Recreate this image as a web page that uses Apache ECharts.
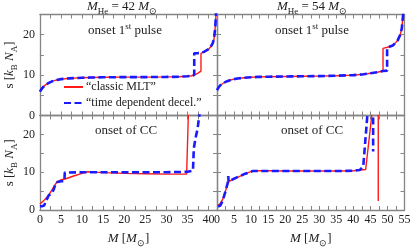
<!DOCTYPE html>
<html><head><meta charset="utf-8">
<script src="https://cdn.jsdelivr.net/npm/echarts@6/dist/echarts.min.js"></script>
<style>html,body{margin:0;padding:0;background:#fff}#c{width:415px;height:249px}</style>
</head><body><div id="c"></div>
<script>
// ---- data ----
// Upper-left: M_He = 42, onset 1st pulse
const M_UL_red  = [0,0.5,1,1.5,2,3,4,5,6,7,8,10,12,15,20,25,30,33,35,36,36.8,37.5,38.2,38.2,39,40,40.5,41,41.3,41.6,41.8];
const S_UL_red  = [5.9,6.7,7.3,7.7,8.0,8.5,8.8,9.0,9.1,9.2,9.25,9.35,9.4,9.45,9.5,9.5,9.55,9.6,9.7,9.85,10.1,10.5,11.0,15.4,15.8,16.4,17.0,17.9,19,22,26];
const M_UL_blue = [0,0.5,1,1.5,2,3,4,5,6,7,8,10,12,15,20,25,30,33,35,36,36.6,36.6,37.5,38.2,39,40,40.5,41,41.3,41.6,41.8];
const S_UL_blue = [5.9,6.7,7.3,7.7,8.0,8.5,8.8,9.0,9.1,9.2,9.25,9.35,9.4,9.45,9.5,9.5,9.55,9.6,9.7,9.85,10.0,15.4,15.45,15.5,15.8,16.4,17.0,17.9,19,22,26];
// Upper-right: M_He = 54, onset 1st pulse
const M_UR_red  = [0,0.5,1,2,3,4,5,6,8,10,12,15,20,25,30,35,40,43,45,47,48.7,48.7,50,51.7,53,53.7,54.2,54.6,54.9];
const S_UR_red  = [6.3,7.0,7.5,8.1,8.5,8.8,9.0,9.15,9.35,9.45,9.55,9.6,9.65,9.7,9.75,9.85,10.0,10.2,10.45,10.7,11.0,16.6,16.9,17.4,18.6,19.9,21.5,25,27];
const M_UR_blue = [0,0.5,1,2,3,4,5,6,8,10,12,15,20,25,30,35,40,43,45,47,48.7,49.9,49.9,50,51.7,53,53.7,54.2,54.6,54.9];
const S_UR_blue = [6.3,7.0,7.5,8.1,8.5,8.8,9.0,9.15,9.35,9.45,9.55,9.6,9.65,9.7,9.75,9.85,10.0,10.2,10.45,10.7,11.0,11.1,16.8,16.9,17.4,18.6,19.9,21.5,25,27];
// Lower-left: M_He = 42, onset of CC
const M_LL_red  = [0,1,2,3,4,4.4,5,6,8,10,11.2,15,20,25,30,34.8,35.2,35.3];
const S_LL_red  = [1.6,2.6,3.8,5.6,7.4,7.8,8.0,8.2,9.0,9.7,10.1,9.9,9.7,9.6,9.5,9.5,25,30];
const M_LL_blue = [0,0.5,1,1.5,2.1,2.8,3.3,3.8,4.2,5.0,5.8,5.9,6.5,10,15,20,25,30,35,36.3,36.5,36.9,37.4,37.8,38];
const S_LL_blue = [1.0,1.0,1.2,2.5,3.9,4.3,5.5,7.3,7.5,7.6,7.6,9.9,9.9,10.0,10.0,10.0,10.0,10.0,10.1,10.4,16.3,19,21.5,25,27];
// Lower-right: M_He = 54, onset of CC
const M_LR_red  = [0.3,1,1.7,2.5,3.2,4,5.1,6.5,8.1,9.5,11,15,20,25,30,35,40,43.6,45.4,45.6,47.3,47.3];
const S_LR_red  = [1.2,1.8,2.9,5.0,7.4,7.8,8.2,8.8,9.5,10.0,10.4,10.4,10.3,10.3,10.3,10.3,10.4,10.7,25,30,30,2.4];
const M_LR_blue = [0.3,1.0,1.7,2.5,3.2,3.3,3.4,5,8,10.5,15,20,25,30,35,40,41.9,42.9,44.1,44.3,45.8,45.8];
const S_LR_blue = [0.9,1.2,2.5,5.0,7.3,9.0,7.6,8.3,9.5,10.3,10.3,10.3,10.3,10.3,10.3,10.4,10.6,11.5,25,30,30,15.5];

const X_MAX = [42, 55, 42, 55];
const Y_MAX = 25;
const titles = ['{i|M}{sub|He} = 42 {i|M}{sub|\u2299}', '{i|M}{sub|He} = 54 {i|M}{sub|\u2299}'];
const panelLabels = ['onset 1{sup|st} pulse', 'onset 1{sup|st} pulse', 'onset of CC', 'onset of CC'];
const legendNames = ['\u201cclassic MLT\u201d', '\u201ctime dependent decel.\u201d'];
const yName = 's [{i|k}{sub|B} {i|N}{sub|A}]';
const xName = '{i|M} [{i|M}{sub|\u2299}]';

// ---- layout / style ----
const FF = 'Liberation Serif';
const AX = '#858585';
const TXT = '#222';
const RED = '#ff1a1a', BLUE = '#1a1aff';
const L0 = 32.5, L1 = 217, W0 = 184.5, W1 = 187.5, T0 = 14.5, T1 = 115.5, H = 101;
const grids = [
  {left: L0, top: T0, width: W0, height: H},
  {left: L1, top: T0, width: W1, height: H},
  {left: L0, top: T1, width: W0, height: H},
  {left: L1, top: T1, width: W1, height: H}
];
const rich = {
  i: {fontStyle: 'italic', fontFamily: FF, fontSize: 13, color: TXT},
  sub: {fontSize: 9, fontFamily: FF, verticalAlign: 'bottom', lineHeight: 9, color: TXT},
  sup: {fontSize: 9, fontFamily: FF, verticalAlign: 'top', lineHeight: 9, color: TXT}
};

function xAx(g, pos, labels, name) {
  return {
    type: 'value', gridIndex: g, min: 0, max: X_MAX[g], interval: 2.5, position: pos,
    axisLine: {show: true, onZero: false, lineStyle: {color: AX, width: 1.3}},
    axisTick: {show: true, inside: true, length: 4, lineStyle: {color: AX, width: 1}},
    axisLabel: {show: labels, margin: 4, fontFamily: FF, fontSize: 12, color: TXT,
      formatter: v => (Math.abs(v % 5) < 1e-9 ? String(v) : '')},
    splitLine: {show: false},
    name: name || '', nameLocation: 'middle', nameGap: 20,
    nameTextStyle: {fontFamily: FF, fontSize: 13, color: TXT, lineHeight: 18, rich: rich}
  };
}
function yAx(g, pos, labels, name) {
  return {
    type: 'value', gridIndex: g, min: 0, max: Y_MAX, interval: 5, position: pos,
    axisLine: {show: true, onZero: false, lineStyle: {color: AX, width: 1.3}},
    axisTick: {show: true, inside: true, length: 4, lineStyle: {color: AX, width: 1}},
    axisLabel: {show: labels, margin: 5, fontFamily: FF, fontSize: 12, color: TXT,
      formatter: v => (v % 10 === 0 && v < Y_MAX ? String(v) : '')},
    splitLine: {show: false},
    name: name || '', nameLocation: 'middle', nameGap: 18, nameRotate: 90,
    nameTextStyle: {fontFamily: FF, fontSize: 13, color: TXT, lineHeight: 18, rich: rich}
  };
}
const xAxis = [
  xAx(0, 'bottom', false), xAx(1, 'bottom', false), xAx(2, 'bottom', true, xName), xAx(3, 'bottom', true, xName),
  xAx(0, 'top', false), xAx(1, 'top', false), xAx(2, 'top', false), xAx(3, 'top', false)
];
const yAxis = [
  yAx(0, 'left', true, yName), yAx(1, 'left', false), yAx(2, 'left', true, yName), yAx(3, 'left', false),
  yAx(0, 'right', false), yAx(1, 'right', false), yAx(2, 'right', false), yAx(3, 'right', false)
];
const zip = (a, b) => a.map((v, i) => [v, b[i]]);
const curves = [
  [M_UL_red, S_UL_red, M_UL_blue, S_UL_blue],
  [M_UR_red, S_UR_red, M_UR_blue, S_UR_blue],
  [M_LL_red, S_LL_red, M_LL_blue, S_LL_blue],
  [M_LR_red, S_LR_red, M_LR_blue, S_LR_blue]
];
const series = [];
curves.forEach((c, g) => {
  series.push({name: legendNames[0], type: 'line', xAxisIndex: g, yAxisIndex: g, data: zip(c[0], c[1]),
    showSymbol: false, symbol: 'none', clip: true, animation: false, z: 2,
    lineStyle: {color: RED, width: 1.4}, itemStyle: {color: RED}});
});
curves.forEach((c, g) => {
  series.push({name: legendNames[1], type: 'line', xAxisIndex: g, yAxisIndex: g, data: zip(c[2], c[3]),
    showSymbol: false, symbol: 'none', clip: true, animation: false, z: 3,
    lineStyle: {color: BLUE, width: 2.6, type: [7, 3.5]}, itemStyle: {color: BLUE}});
});
const txt = (x, y, text) => ({type: 'text', x: x, y: y, silent: true, z: 10,
  style: {text: text, rich: rich, fontFamily: FF, fontSize: 13, lineHeight: 18, fill: TXT, align: 'center', verticalAlign: 'middle'}});
const graphic = [
  txt(122, 7, titles[0]), txt(312, 7, titles[1]),
  txt(125, 31, panelLabels[0]), txt(312, 31, panelLabels[1]),
  txt(126, 131, panelLabels[2]), txt(312, 131, panelLabels[3])
];
const chart = echarts.init(document.getElementById('c'), null, {renderer: 'canvas'});
chart.setOption({
  animation: false,
  backgroundColor: '#fff',
  grid: grids,
  xAxis: xAxis,
  yAxis: yAxis,
  series: series,
  graphic: graphic,
  legend: {
    orient: 'vertical', left: 63, top: 81, padding: 0, itemWidth: 19, itemHeight: 10, itemGap: 4,
    data: legendNames, selectedMode: false,
    itemStyle: {color: 'rgba(0,0,0,0)', borderWidth: 0, opacity: 0},
    textStyle: {fontFamily: FF, fontSize: 12, color: TXT, padding: [0, 0, 0, -2]}
  }
});
</script>
</body></html>
